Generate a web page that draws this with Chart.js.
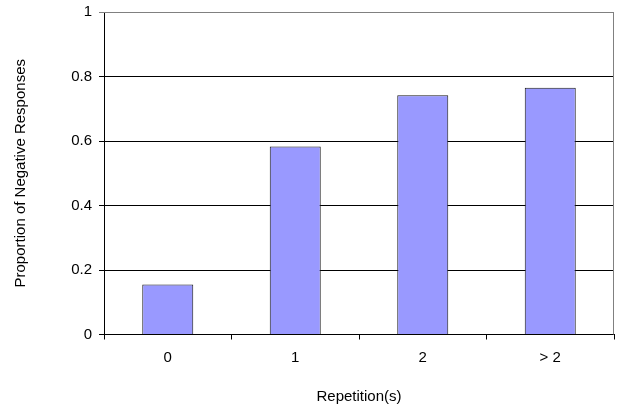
<!DOCTYPE html>
<html>
<head>
<meta charset="utf-8">
<script src="https://cdn.jsdelivr.net/npm/chart.js@4/dist/chart.umd.min.js"></script>
<style>
  html, body { margin: 0; padding: 0; background: #fff; }
  #wrap { width: 618px; height: 410px; }
</style>
</head>
<body>
<div id="wrap"><canvas id="c" width="618" height="410"></canvas></div>
<script>
const categories = ['0', '1', '2', '> 2'];
const proportions = [0.155, 0.583, 0.742, 0.765];
const yTicks = [0, 0.2, 0.4, 0.6, 0.8, 1];

const FONT = { family: '"Liberation Sans", Arial, sans-serif', size: 15 };

// Grey frame on the top and right of the plotting area
const frame = {
  id: 'frame',
  beforeDatasetsDraw(chart) {
    const { ctx, chartArea: a } = chart;
    ctx.save();
    ctx.strokeStyle = '#808080';
    ctx.lineWidth = 1;
    ctx.beginPath();
    ctx.moveTo(a.left, Math.round(a.top) + 0.5);
    ctx.lineTo(Math.round(a.right) - 0.5, Math.round(a.top) + 0.5);
    ctx.lineTo(Math.round(a.right) - 0.5, a.bottom);
    ctx.stroke();
    ctx.restore();
  }
};

new Chart(document.getElementById('c'), {
  type: 'bar',
  data: {
    labels: categories,
    datasets: [{
      data: proportions,
      backgroundColor: '#9999FF',
      borderColor: '#1a1a1a',
      borderWidth: 1,
      barPercentage: 0.4,
      categoryPercentage: 1.0
    }]
  },
  options: {
    responsive: false,
    animation: false,
    layout: { padding: { top: 12, right: 4, left: 0, bottom: 0 } },
    plugins: { legend: { display: false }, tooltip: { enabled: false } },
    scales: {
      x: {
        grid: {
          offset: true,
          drawOnChartArea: false,
          color: '#000',
          tickLength: 5
        },
        border: { color: '#000', width: 1 },
        ticks: { color: '#000', font: FONT, padding: 9 },
        title: {
          display: true,
          text: 'Repetition(s)',
          color: '#000',
          font: FONT,
          padding: { top: 0, bottom: 4 }
        },
        afterFit(scale) {
          scale.height = 75.5;
          scale.paddingLeft = 0;
          scale.paddingRight = 0;
        }
      },
      y: {
        min: 0,
        max: 1,
        afterBuildTicks(scale) { scale.ticks = yTicks.map(v => ({ value: v })); },
        grid: {
          color: (c) => (c.tick && c.tick.value === 1 ? '#808080' : '#000'),
          tickLength: 5,
          drawTicks: true
        },
        border: { color: '#000', width: 1 },
        ticks: {
          color: '#000',
          font: FONT,
          padding: 7,
          callback: (v) => String(v)
        },
        title: {
          display: true,
          text: 'Proportion of Negative Responses',
          color: '#000',
          font: FONT,
          padding: { top: 12, bottom: 0 }
        },
        afterFit(scale) {
          scale.width = 104;
          scale.paddingTop = 0;
          scale.paddingBottom = 0;
        }
      }
    }
  },
  plugins: [frame]
});
</script>
</body>
</html>
